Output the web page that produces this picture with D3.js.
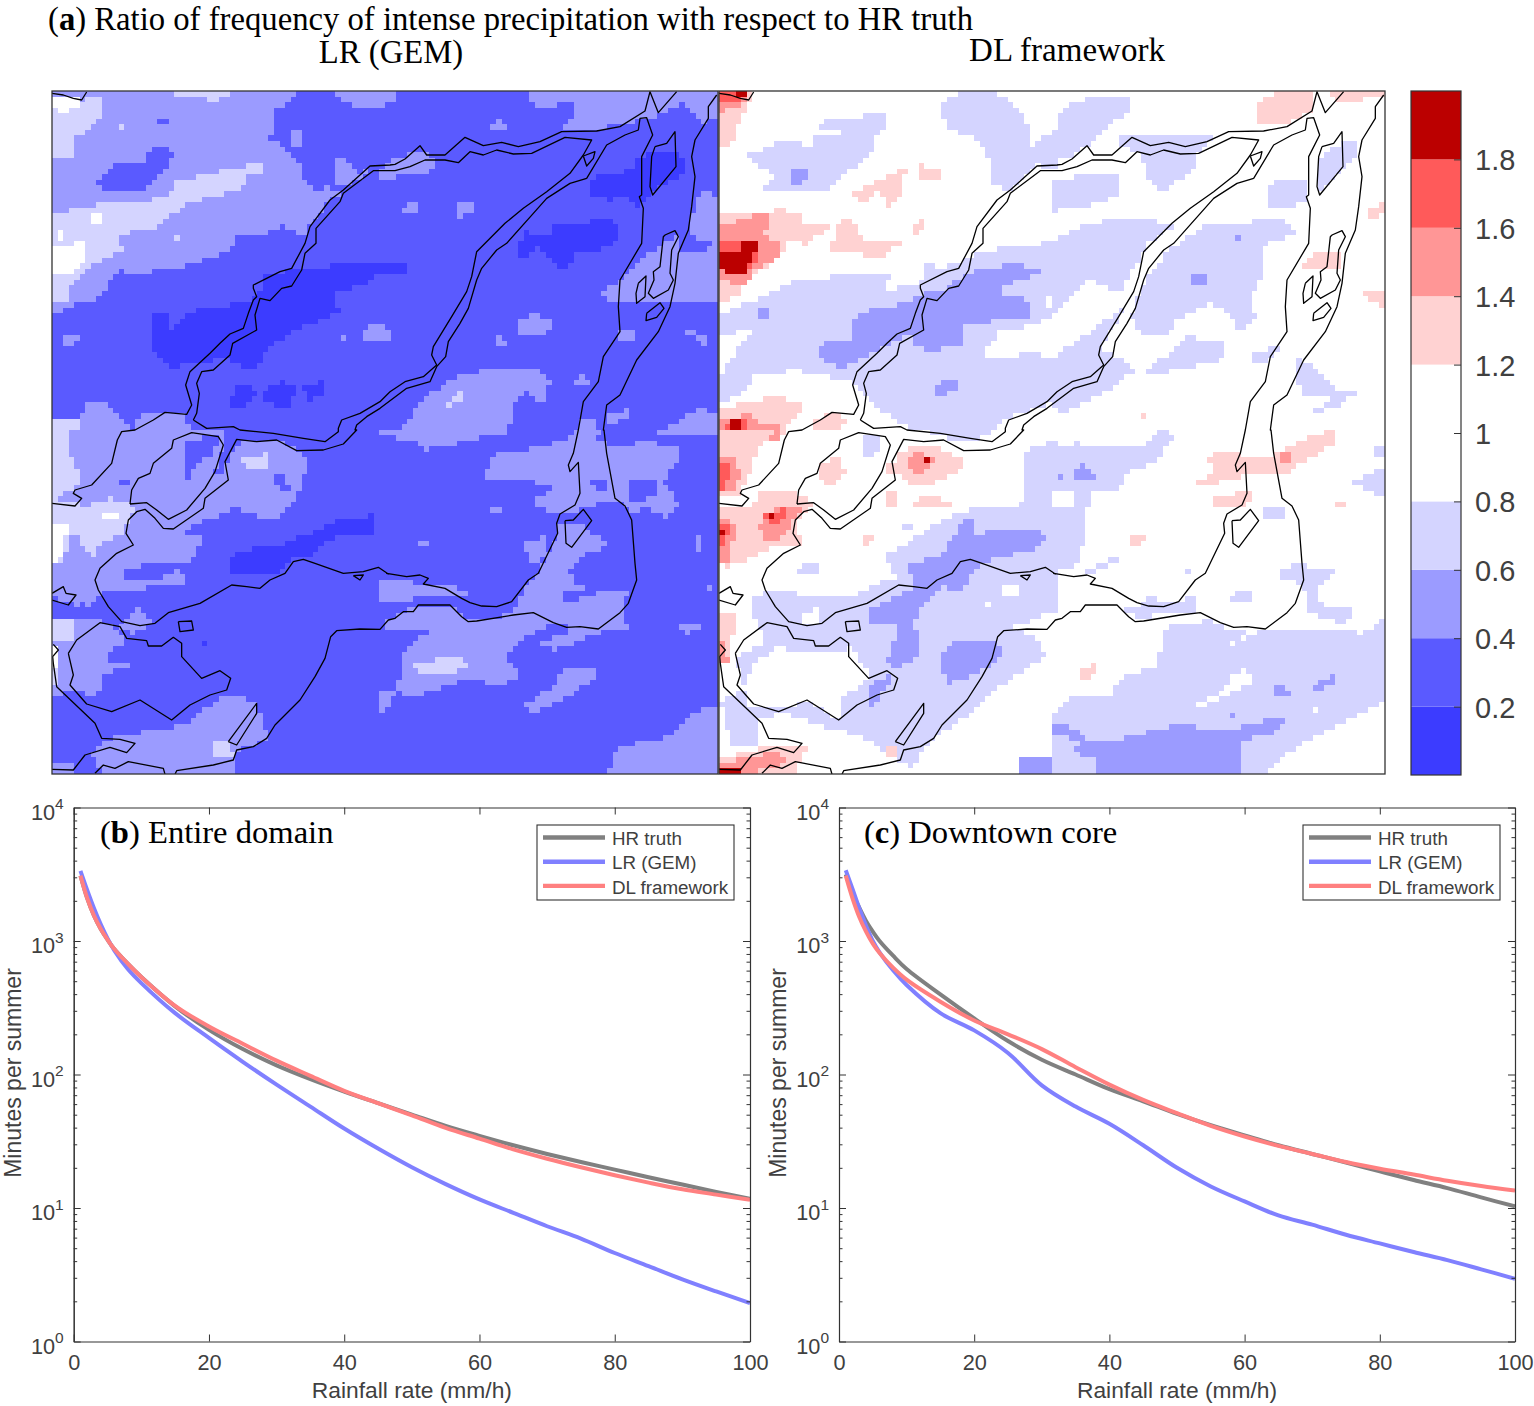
<!DOCTYPE html>
<html><head><meta charset="utf-8">
<script src="https://cdn.jsdelivr.net/npm/d3@7"></script>
<style>html,body{margin:0;background:#fff}svg{display:block}</style></head>
<body><svg id="fig" width="1534" height="1406"></svg>
<script>
// ---------- colour classes of the ratio map ----------
const levelBreaks=[0,0.2,0.4,0.6,0.8,1.2,1.4,1.6,1.8,2];
const levelColors=["#3c3cff","#5a5aff","#9b9bff","#d4d4ff","#ffffff","#ffd2d2","#ff9696","#ff5a5a","#bb0000"];
const colorbarTicks=[0.2,0.4,0.6,0.8,1,1.2,1.4,1.6,1.8];
// ---------- traced sheets (map units, origin of each tracing sheet, 1/3 unit per sheet step) ----------
const sheets={A:[-12,-11],B:[328,-11],C:[-12,339],D:[328,339],E:[-4,-6],F:[331,-6],G:[-4,339],H:[331,339]};
// ---------- regions of the LR (GEM) map: class index (1-9), sheet, outline; later entries lie above earlier ones ----------
const regionsLR=[
[3,'A',[36,30,780,30,705,95,710,150,690,175,740,210,790,260,785,295,830,330,860,320,890,335,910,335,870,360,810,440,795,465,725,440,650,470,580,460,585,490,550,520,450,550,400,570,320,575,290,590,235,570,210,600,190,650,100,675,30,715]],
[3,'A',[885,30,1060,30,1060,70,1000,85,930,75,900,70]],
[3,'B',[0,30,50,30,20,60,0,85]],
[3,'A',[745,145,785,145,785,205,745,200]],
[3,'A',[880,240,910,240,950,280,990,270,960,300,910,320,880,300]],
[2,'A',[170,315,230,255,320,240,335,200,370,195,405,225,350,300,320,325,225,340]],
[2,'A',[345,115,385,115,385,140,365,135]],
[3,'A',[50,780,120,760,120,780,85,810]],
[3,'A',[960,745,1040,735,1050,775,970,775]],
[3,'A',[900,770,915,770,900,785]],
[3,'A',[30,1010,120,1010,145,965,190,960,240,1020,290,1060,30,1060]],
[3,'A',[290,1060,290,1010,375,995,440,1003,450,1060]],
[4,'A',[30,1020,110,1005,120,1040,30,1060]],
[4,'A',[30,400,120,385,200,365,290,375,390,340,400,310,480,290,570,265,660,250,670,290,620,275,610,325,500,355,440,370,400,400,340,445,240,465,245,510,150,560,100,600,80,660,30,665]],
[4,'A',[30,230,95,230,100,180,180,120,190,50,130,60,30,50]],
[4,'A',[230,130,280,150,232,155]],
[4,'A',[395,470,420,470,420,488,395,488]],
[4,'A',[400,30,580,30,530,60,400,50]],
[5,'A',[30,50,100,55,130,60,125,85,50,95]],
[5,'A',[155,400,190,400,190,445,155,425]],
[5,'A',[30,510,105,490,135,480,145,520,120,560,90,595,30,575]],
[5,'A',[50,455,62,455,62,478,50,478]],
[1,'A',[340,700,370,690,395,745,480,680,630,670,665,620,670,580,800,570,930,545,1060,555,1060,580,1010,580,1000,605,890,640,895,690,860,720,790,735,680,810,650,865,580,855,550,830,490,850,390,860,335,810]],
[1,'A',[570,975,600,900,650,940,610,985]],
[1,'A',[670,930,730,900,775,930,740,985,670,960]],
[1,'A',[790,920,860,900,860,950,800,960]],
// upper right
[3,'B',[450,30,1020,30,1010,110,960,130,910,65,830,110,700,140,550,150,585,95,585,55,460,95]],
[3,'B',[25,240,80,225,140,210,165,245,150,290,60,290,0,300,0,270]],
[3,'B',[330,150,365,100,375,150]],
[3,'B',[60,385,95,365,125,385,75,410]],
[3,'B',[232,375,270,365,290,395,240,410]],
[3,'B',[635,655,720,600,820,510,895,470,900,520,1020,500,1020,660,860,665,730,660]],
[3,'B',[960,330,1020,350,1020,500,940,470,930,420]],
[3,'B',[405,755,420,715,480,700,515,730,490,765,410,760]],
[3,'B',[335,780,370,770,380,800,350,800]],
[3,'B',[720,755,765,755,755,780,720,780]],
[3,'B',[915,745,940,745,940,770,915,770]],
[3,'B',[950,770,990,770,975,800]],
[3,'B',[0,740,25,760,0,775]],
[3,'B',[60,1060,120,960,240,880,340,870,500,875,510,910,490,970,440,935,400,965,385,1060]],
[3,'B',[580,905,600,880,630,905,590,925]],
[3,'B',[670,1030,690,1000,740,990,740,1020]],
[3,'B',[600,1020,640,1015,660,1060,600,1060]],
[3,'B',[830,1060,960,985,1020,1000,1020,1060]],
[4,'B',[200,975,240,935,240,965,205,980]],
[4,'B',[235,1020,305,1005,300,1020]],
[1,'B',[625,320,660,285,760,270,760,225,800,225,890,210,915,250,915,285,880,300,810,340,780,385,740,350,680,360,640,345]],
[1,'B',[410,505,440,455,500,470,530,430,610,430,680,410,720,440,720,480,640,520,590,510,580,550,550,575,515,545,480,500,430,540]],
[1,'B',[0,555,80,545,80,575,30,590,0,575]],
// lower left
[3,'C',[30,-5,550,-5,550,40,520,130,540,150,560,100,600,30,700,25,790,70,810,100,775,180,775,210,710,260,660,260,580,235,510,265,420,300,480,320,480,350,440,400,400,390,330,400,250,420,260,445,380,440,400,420,440,430,440,465,300,475,190,490,140,540,110,525,30,500]],
[3,'C',[30,560,180,560,190,640,120,700,100,780,30,800]],
[3,'C',[260,560,300,535,340,580,280,610,230,590]],
[3,'C',[85,660,180,580,240,600,260,635,205,670,205,700,280,700,180,740,180,790,140,795,90,770]],
[3,'C',[280,910,430,885,550,800,640,810,690,920,640,950,590,960,590,1040,200,1040,150,970,200,930]],
[3,'C',[30,990,100,1000,110,1040,30,1040]],
[2,'C',[440,30,525,20,540,40,510,80,470,95,430,170,440,100]],
[2,'C',[690,150,740,125,745,185,720,185]],
[2,'C',[225,155,250,145,280,145,255,165]],
[2,'C',[115,510,140,510,140,525,115,525]],
[4,'C',[30,-5,80,-5,85,70,120,130,110,170,60,200,30,220]],
[4,'C',[30,220,150,225,210,205,265,215,290,240,260,280,255,310,190,340,160,380,110,320,100,290,65,400,30,400]],
[3,'C',[290,240,330,260,310,285,290,285,285,260]],
[4,'C',[30,570,95,570,95,630,30,640]],
[4,'C',[30,640,60,660,45,770,30,730]],
[4,'C',[515,925,570,925,580,985,530,990]],
[4,'C',[605,90,650,80,690,70,690,115,640,120]],
[5,'C',[30,270,80,285,70,380,30,400]],
[5,'C',[30,640,55,660,45,720,30,700]],
[5,'C',[180,258,230,240,230,265]],
[1,'C',[560,385,620,360,720,345,840,300,910,265,1010,255,1000,320,850,325,850,350,810,385,760,390,720,430,640,440,570,430]],
[1,'C',[480,632,505,632,505,645,480,645]],
// lower right
[3,'D',[0,-5,380,-5,360,10,200,50,130,60,100,30,0,20]],
[3,'D',[345,65,440,60,550,30,590,-5,650,-5,650,30,680,40,700,50,800,35,905,60,880,110,850,150,900,225,860,265,800,230,760,250,700,205,660,220,600,240,530,260,450,215,520,180,510,170,420,140,310,150]],
[2,'D',[625,150,680,145,690,190,640,170]],
[2,'D',[740,145,830,155,830,190,760,230,740,190]],
[3,'D',[0,445,130,460,200,470,265,480,250,505,100,505,40,520,0,510]],
[3,'D',[0,600,20,575,75,545,110,525,215,525,260,575,400,550,445,460,475,430,530,310,530,290,610,290,680,335,680,350,620,375,570,420,580,470,620,470,620,475,555,480,540,510,590,510,680,475,740,490,730,545,740,580,770,585,660,610,600,630,530,660,480,645,520,620,590,600,520,580,430,620,390,660,380,690,430,730,350,770,280,740,190,770,100,800,50,785,70,660,150,600]],
[3,'D',[410,350,490,320,500,380,470,410,430,355]],
[3,'D',[115,335,155,335,125,355]],
[3,'D',[330,235,370,235,345,262]],
[3,'D',[905,590,970,580,920,620]],
[3,'D',[945,320,970,315,970,375,945,365]],
[3,'D',[0,785,50,785,20,840,0,850]],
[3,'D',[435,820,520,770,550,710,655,715,640,750,520,825,460,855]],
[3,'D',[975,455,990,475,975,475]],
[3,'D',[710,950,850,925,960,840,1020,835,1020,1040,680,1040]],
[4,'D',[100,705,160,690,240,690,265,705,230,730,140,730,100,720]]
];
// ---------- regions of the DL framework map ----------
const regionsDL=[
[4,'E',[100,210,200,170,290,180,300,145,490,140,460,220,370,280,330,320,130,325,180,270,120,240]],
[4,'E',[670,70,730,20,830,20,900,60,940,120,940,190,1030,130,1030,250,960,240,880,320,830,300,820,220,800,170,700,130]],
[4,'E',[320,110,510,85,510,130,320,130]],
[4,'E',[15,690,130,640,230,590,400,570,550,560,490,625,620,590,625,520,680,550,730,530,780,510,860,490,1030,470,1030,600,990,660,1030,680,950,720,850,740,810,800,830,825,960,800,1030,830,1030,950,870,1000,800,1060,700,1060,560,1020,490,970,455,940,410,890,240,855,120,870,70,940,15,945,15,880,60,800,120,740,15,745]],
[3,'E',[300,800,340,770,405,760,405,700,460,675,590,650,610,630,690,610,770,560,870,540,970,545,970,570,880,600,830,620,945,645,945,695,740,720,755,775,660,795,600,790,590,745,500,790,380,850,340,830]],
[3,'E',[655,905,695,880,720,880,720,915,665,940]],
[3,'E',[232,250,285,260,255,305,232,305]],
[3,'E',[130,680,150,665,165,690,140,705]],
[6,'E',[0,15,110,15,100,60,75,110,45,185,0,180]],
[6,'E',[415,320,470,300,520,265,575,255,550,355,520,360,490,320,440,355]],
[6,'E',[615,240,695,265,670,290,620,280]],
[6,'E',[0,390,200,375,270,385,270,420,340,425,280,480,220,470,170,540,100,580,70,640,0,650]],
[6,'E',[340,520,370,410,410,405,450,470,570,465,500,515,340,500]],
[6,'E',[590,440,620,400,630,430,600,455]],
[6,'E',[0,975,170,935,270,955,195,1060,0,1060]],
[6,'E',[290,1010,350,980,400,1010,350,1040,300,1040]],
[7,'E',[0,15,100,15,80,60,0,85]],
[7,'E',[0,420,100,405,130,385,165,390,150,450,205,480,200,510,120,555,80,610,0,570]],
[7,'E',[10,1010,100,985,130,1020,190,1020,195,1060,10,1060]],
[8,'E',[0,470,50,460,125,470,130,520,90,560,40,570,0,540]],
[8,'E',[25,1020,60,990,100,1010,90,1060,30,1060]],
[8,'E',[0,15,60,15,75,45,20,55]],
[9,'E',[0,510,70,500,90,470,125,470,115,520,80,575,50,575,0,540]],
[9,'E',[60,25,100,25,75,48]],
[9,'E',[45,1000,75,1000,70,1030,50,1035]],
// upper right
[4,'F',[0,170,40,70,110,40,240,40,240,70,140,160,60,220,0,230]],
[4,'F',[200,150,500,150,440,215,450,240,340,320,290,270,270,210,280,195,200,190]],
[4,'F',[0,290,100,270,210,265,210,320,170,350,30,375,0,400]],
[4,'F',[0,470,100,425,200,395,300,400,370,425,300,470,250,550,210,630,120,580,70,620,0,710]],
[4,'F',[240,700,290,580,360,490,470,420,600,410,700,405,740,445,640,480,640,560,600,640,620,700,570,750,540,690,480,655,370,710,360,750,280,750]],
[4,'F',[0,820,120,740,230,660,150,790,260,850,170,920,30,985,0,960]],
[4,'F',[360,800,410,755,530,770,530,820,400,850,320,870,280,860]],
[4,'F',[650,320,680,280,770,280,770,340,720,370,650,370]],
[4,'F',[800,230,880,165,930,165,930,200,880,250,810,330]],
[4,'F',[610,810,690,775,660,830,610,830]],
[4,'F',[735,820,780,830,850,910,940,910,850,970,780,985,860,930,760,935,735,880]],
[3,'F',[430,575,470,575,470,595,430,595]],
[3,'F',[550,450,570,450,570,465,550,465]],
[3,'F',[50,815,70,815,60,830]],
[6,'F',[615,60,680,25,790,25,780,80,710,120,620,125]],
[6,'F',[830,15,1010,15,1010,35,860,50]],
[6,'F',[755,550,780,510,880,500,880,540,860,560,760,550]],
[6,'F',[940,620,1010,610,1010,680,970,650]],
[6,'F',[950,380,1010,350,1010,385,950,405]],
[6,'F',[235,1000,295,990,285,1005,235,1010]],
// lower left
[4,'G',[440,25,500,20,500,60,460,85,440,60]],
[4,'G',[115,510,170,475,290,500,420,495,540,440,510,370,560,350,700,260,780,235,900,240,930,210,930,60,1030,30,1030,580,900,590,960,620,990,680,900,740,830,790,750,860,660,920,620,960,590,1020,450,925,300,880,200,850,130,870,130,940,50,945,15,820,30,800,80,780,110,710,190,650,230,665,300,660,405,660,440,700,450,760,375,800,370,870,270,810,200,840,100,830,60,680,150,640,120,560]],
[4,'G',[555,290,590,275,590,300,560,300]],
[4,'G',[240,420,290,390,320,410,290,440,240,430]],
[5,'G',[290,800,290,720,370,680,400,650,470,730,430,770,360,800]],
[5,'G',[790,510,830,525,810,530]],
[5,'G',[860,470,910,470,910,500,870,495]],
[5,'G',[900,590,1030,540,1030,590,990,600,910,590]],
[5,'G',[730,920,820,830,880,770,990,700,1030,680,1030,860,900,900,800,960,760,990,730,960]],
[5,'G',[260,560,300,535,330,570,270,590]],
[3,'G',[575,400,680,380,720,310,745,265,775,270,790,340,810,300,870,295,950,290,990,320,960,360,890,375,800,400,770,440,730,495,680,470,630,520,600,570,610,680,530,720,515,690,540,620,540,590,470,580,460,540,530,510,600,470,590,440]],
[3,'G',[680,680,710,635,830,625,870,665,820,710,760,740,700,760,670,710]],
[3,'G',[450,800,480,760,520,730,520,770,470,830]],
[3,'G',[900,1040,920,985,1000,980,1030,1000,1030,1040]],
[3,'G',[1000,880,1030,880,1030,900]],
[6,'G',[0,-5,200,-5,130,60,80,190,30,210,0,200]],
[6,'G',[0,230,110,235,130,190,250,190,300,220,240,280,260,340,150,360,100,390,40,410,0,400]],
[6,'G',[0,550,70,550,50,640,40,700,0,710]],
[6,'G',[310,110,380,70,390,130,350,165,310,150]],
[6,'G',[510,100,540,100,540,130,510,135]],
[6,'G',[540,70,610,50,680,55,750,90,750,110,660,160,590,165,540,130]],
[6,'G',[505,190,550,190,550,230,505,230]],
[6,'G',[560,220,640,200,720,215,690,235,600,225]],
[6,'G',[440,325,490,315,460,350,440,345]],
[6,'G',[0,990,100,965,180,940,290,950,260,980,240,1040,0,1040]],
[6,'G',[515,950,560,945,540,980,515,975]],
[7,'G',[0,90,50,85,80,130,60,180,0,195]],
[7,'G',[130,290,180,230,260,230,240,270,200,320,150,340]],
[7,'G',[0,260,60,280,50,350,40,400,0,390]],
[7,'G',[575,100,610,65,670,90,620,135,580,120]],
[7,'G',[10,1000,90,985,180,965,220,1000,150,1020,10,1040]],
[7,'G',[0,620,30,640,40,690,0,700]],
[8,'G',[0,100,50,100,30,180,0,180]],
[8,'G',[145,260,220,235,215,265,180,290]],
[8,'G',[0,290,40,290,30,350,0,345]],
[8,'G',[0,1020,80,1010,85,1040,0,1040]],
[9,'G',[170,245,185,245,185,262,170,262]],
[9,'G',[0,295,35,295,30,320,0,320]],
[9,'G',[630,88,645,88,640,95]],
[9,'G',[0,1020,80,1020,80,1040,0,1040]],
// lower right
[4,'H',[0,60,80,40,180,50,280,50,340,-5,370,15,320,100,240,120,200,180,130,190,115,220,110,320,70,420,0,420]],
[5,'H',[0,190,60,180,80,230,50,240,0,230]],
[3,'H',[70,150,90,100,130,125,155,150]],
[3,'H',[15,135,40,135,40,150,15,150]],
[4,'H',[0,440,15,440,15,500,0,500]],
[4,'H',[100,420,210,380,190,400,130,430]],
[4,'H',[400,410,430,430,420,445]],
[4,'H',[530,510,560,480,615,480,600,510,535,520]],
[4,'H',[640,230,700,225,700,265,640,260]],
[4,'H',[690,410,750,405,855,420,800,470,820,530,930,545,870,580,780,550,760,470,695,440]],
[4,'H',[900,155,1010,110,1010,200,940,180]],
[4,'H',[970,50,1010,40,1010,75,980,75]],
[4,'H',[230,535,280,520,370,520,440,495,440,545,270,560,230,555]],
[4,'H',[290,500,320,490,320,520,290,520]],
[4,'H',[0,860,60,800,130,795,190,790,200,750,320,710,340,620,350,590,480,570,520,590,640,600,860,600,940,610,1010,565,1010,810,860,890,740,950,630,1040,0,1040]],
[5,'H',[440,820,520,780,550,730,590,715,610,750,570,780,500,810,450,840]],
[5,'H',[770,850,810,820,800,850]],
[5,'H',[530,650,600,600,620,610,560,640]],
[3,'H',[0,885,90,895,100,930,220,925,380,885,500,895,540,900,650,870,700,870,670,910,580,930,580,1040,140,1040,130,985,70,970,90,930,0,910]],
[3,'H',[780,770,855,735,855,760,790,790]],
[3,'H',[660,780,680,760,730,785,680,805]],
[3,'H',[520,860,560,850,560,860]],
[6,'H',[475,75,560,65,580,90,670,80,740,35,860,-5,860,40,760,95,700,140,600,130,450,175,440,155,490,130]],
[6,'H',[465,215,530,195,610,180,590,230,520,240]],
[6,'H',[235,320,290,315,285,340,235,345]],
[6,'H',[855,215,885,210,885,240,860,240]],
[6,'H',[95,715,130,705,145,735,95,745]],
[7,'H',[680,75,710,65,725,85,690,110]]
];
// ---------- shorelines (same on both maps): list of traced pieces ----------
const shorelines=[
[['A',[36,40,70,45,100,55,125,60,140,36]]],
[['C',[36,220,105,228,125,205,100,190,105,180,155,165,215,100,232,30,245,5,285,0]],['A',[340,1020,375,997,440,1003,455,975,437,915,450,875,510,820,540,790,570,762,610,745,625,700,640,660,650,650,640,625,640,615,720,575,755,565,795,490,810,440,870,360,910,330,990,258,1050,255]],['B',[45,253,75,237,120,197,140,225,195,225,255,172,310,197,365,187,415,200,480,185,545,155,650,153,720,140,795,93,810,35,835,98,890,35]]],
[['A',[460,1020,470,1000,478,940,470,910,485,875,520,870,570,825,578,790,650,750,645,705,660,655,690,662,725,625,755,618,785,570,795,520,828,490,828,445,900,365,910,340,1000,272,1050,272]],['B',[45,272,90,260,135,240,195,240,235,248,270,215,310,225,350,210,400,222,455,220,555,172,635,180,610,225,570,280,500,335,430,385,375,430,290,515,275,590,260,635,215,710,160,800,155,825,170,855,130,890,75,905,30,935,0,965]],['A',[960,1000,905,1020,895,1045]],['C',[895,5,855,35,790,25,700,10,600,0]],['A',[580,1040,500,1045,460,1020]]],
[['B',[620,295,570,310,500,355,460,400,380,490,350,510,305,565,290,600,265,685,240,730,205,785,197,830,170,860,150,905,80,925,0,985]],['A',[980,1010,950,1035,945,1050]],['C',[950,0,910,42,850,60,770,62,710,30,650,35,590,28,555,95,565,150,495,205,490,235,400,297,370,295,345,265,315,238,290,245,265,270,258,310,280,345,230,370,180,415,165,450,175,480,205,530,245,575,300,587,345,580,385,548,480,520,575,465,620,470,660,475,690,450,735,430,760,395,790,388,825,400,910,430,970,425,1015,412,1045,432]],['D',[20,430,80,440,120,435,145,445,130,462,195,475,245,505,270,518,305,528,350,530,395,515,445,450,475,430,533,310,530,280,540,252,585,225,600,190,595,97,570,125,565,105,580,70,595,0]],['B',[595,1050,610,965,655,905,670,830,720,755,715,680,720,600,785,490,790,385,778,350,785,345,785,230,818,165,800,113,780,115,775,150,735,165,680,195,620,295]]],
[['B',[1010,45,985,80,985,115,945,180,935,230,945,290,935,380,925,450,895,520,885,610,870,680,835,755,770,840,720,945,680,975,670,1050]],['D',[672,0,680,70,705,205,735,228,755,270,765,400,770,450,745,520,720,548,655,597,600,590,560,592,520,578,460,548,400,555,290,573,265,575,245,560,210,525,115,525,100,545,70,545,45,565,25,570,0,598]],['C',[960,597,890,602,872,620,855,685,825,740,780,810,705,885,680,925,640,950,590,960,580,990,520,1005,410,1022,405,1033]]],
[['C',[375,1033,370,1015,265,995,225,1015,190,1005,165,1030]]],
[['C',[36,1018,100,1020,135,975,210,952,260,968,285,940,240,928,185,925,165,880,50,770,40,700,38,680,55,660,40,643]]],
[['C',[85,670,110,630,180,578,240,590,260,625,320,632,325,648,365,648,400,622,425,640,425,680,485,745,540,722,572,745,560,780,510,795,450,825,395,870,300,810,215,845,140,822,90,765,100,735,85,670]]],
[['C',[270,222,275,180,295,145,330,130,340,100,395,55,400,30,455,8,535,20,550,45,525,125,495,175,440,240,385,268,350,240,320,218,270,222]]],
[['C',[415,575,455,573,460,600,420,605,415,575]]],
[['C',[940,437,970,435,960,450,940,437]]],
[['C',[36,490,70,470,78,490,108,495,85,525,36,510]]],
[['C',[565,935,650,820,650,850,590,945,565,935]]],
[['D',[555,272,580,270,610,238,635,272,575,352,558,340,555,272]]],
[['B',[610,228,645,215,640,235,620,258,610,228]]],
[['B',[825,200,860,190,885,155,888,260,818,345,810,320,815,230,825,200]]],
[['B',[855,465,885,452,895,470,875,510,870,580,880,600,865,630,820,655,805,640,822,600,820,575,840,560,850,470,855,465]]],
[['B',[775,610,798,588,795,650,770,670,768,640,775,610]]],
[['B',[800,700,840,668,852,685,830,712,798,722,800,700]]]
];
// ---------- exceedance curves ----------
const rates=[1,2,3,4,5,6,8,10,15,20,25,30,35,40,45,50,55,60,65,70,75,80,85,90,95,100];
const hrEntire=[3090,2090,1549,1230,1023,871,676,537,324,216,155,117,92.3,74.5,61,50.1,41.2,34.7,29.5,25.4,22.1,19.4,17,15,13.2,11.7];
const lrEntire=[3350,2400,1758,1334,1047,851,617,484,288,188,124.5,84,57.5,39.4,27.9,20.2,15.1,11.6,9.2,7.3,5.9,4.6,3.67,2.92,2.37,1.94];
const dlEntire=[3090,2090,1549,1230,1023,871,676,537,327,229,170,127,97.7,75.5,61,49.5,39.8,33.1,27.5,23.4,20.2,17.6,15.5,13.8,12.6,11.5];
const hrDowntown=[3162,2291,1778,1413,1175,1000,776,617,398,263,178,129,100,77.6,63,50.7,41.7,35,29.5,25.4,21.9,18.8,16.2,14.1,12,10.3];
const lrDowntown=[3390,2455,1758,1303,1000,822,603,468,288,214,145,83,57.5,42.7,29.5,20,14.5,11.2,8.8,7.5,6.3,5.43,4.68,4.07,3.47,2.95];
const dlDowntown=[3090,2090,1514,1175,955,813,631,513,351,254,200,155,113.5,84,64.5,51.3,41.2,34.3,29.2,25.4,22.1,19.7,17.8,16,14.6,13.5];
const seriesNames=["HR truth","LR (GEM)","DL framework"];
const seriesColors=["#808080","#8080ff","#ff8080"];
const xTicks=[0,20,40,60,80,100];
const yDecades=[0,1,2,3,4];

// ---------- drawing ----------
const svg=d3.select("#fig");
const INK="#404040",SERIF="'Liberation Serif',serif",SANS="'Liberation Sans',sans-serif";
const toMap=(k,flat)=>d3.range(0,flat.length,2).map(i=>[sheets[k][0]+flat[i]/3,sheets[k][1]+flat[i+1]/3]);
const CW=666,CH=683,NX=120,NY=123;
const shoreLines=shorelines.map(pieces=>pieces.flatMap(([k,f])=>toMap(k,f)));

function mapPanel(left,regions,base){
  const x=d3.scaleLinear().domain([0,CW]).range([left,left+CW]);
  const y=d3.scaleLinear().domain([0,CH]).range([91,91+CH]);
  const polys=regions.map(([lv,k,f])=>({lv,pts:toMap(k,f)}));
  const grid=d3.range(NY).map(()=>new Array(NX).fill(base));
  polys.forEach(p=>{
    const [x0,x1]=d3.extent(p.pts,d=>d[0]),[y0,y1]=d3.extent(p.pts,d=>d[1]);
    for(let r=Math.max(0,Math.floor(y0/(CH/NY)));r<NY&&(r*CH/NY)<=y1;r++)
      for(let c=Math.max(0,Math.floor(x0/(CW/NX)));c<NX&&(c*CW/NX)<=x1;c++)
        if(d3.polygonContains(p.pts,[(c+.5)*CW/NX,(r+.5)*CH/NY]))grid[r][c]=p.lv;
  });
  const runs=[];
  grid.forEach((row,r)=>{let s=0;for(let c=1;c<=NX;c++)if(c===NX||row[c]!==row[s]){runs.push({r,s,e:c,lv:row[s]});s=c;}});
  const g=svg.append("g");
  g.selectAll("rect").data(runs).join("rect")
    .attr("x",d=>Math.round(x(d.s*CW/NX))).attr("y",d=>Math.round(y(d.r*CH/NY)))
    .attr("width",d=>Math.round(x(d.e*CW/NX))-Math.round(x(d.s*CW/NX)))
    .attr("height",d=>Math.round(y((d.r+1)*CH/NY))-Math.round(y(d.r*CH/NY)))
    .attr("fill",d=>levelColors[d.lv-1]).attr("shape-rendering","crispEdges");
  const clip="c"+left;
  svg.append("clipPath").attr("id",clip).append("rect").attr("x",left).attr("y",91).attr("width",CW).attr("height",CH);
  const line=d3.line().x(d=>x(d[0])).y(d=>y(d[1]));
  svg.append("g").attr("clip-path",`url(#${clip})`).selectAll("path").data(shoreLines).join("path")
    .attr("d",line).attr("fill","none").attr("stroke","#000").attr("stroke-width",1.3).attr("stroke-linejoin","round");
  svg.append("rect").attr("x",left).attr("y",91).attr("width",CW).attr("height",CH).attr("fill","none").attr("stroke","#333").attr("stroke-width",1.3);
}
mapPanel(52,regionsLR,2);
mapPanel(719,regionsDL,5);

// colour bar
(function(){
  const y=d3.scaleLinear().domain([0,2]).range([775,91]);
  const L=1411,W=50;
  svg.append("g").selectAll("rect").data(levelColors).join("rect")
    .attr("x",L).attr("width",W).attr("y",(d,i)=>y(levelBreaks[i+1])).attr("height",(d,i)=>y(levelBreaks[i])-y(levelBreaks[i+1])).attr("fill",d=>d);
  svg.append("rect").attr("x",L).attr("y",91).attr("width",W).attr("height",684).attr("fill","none").attr("stroke","#333").attr("stroke-width",1.2);
  const g=svg.append("g").attr("transform",`translate(${L+W},0)`)
    .call(d3.axisRight(y).tickValues(colorbarTicks).tickSize(-7).tickPadding(14).tickFormat(d3.format("~g")));
  g.select(".domain").remove();
  g.selectAll("line").attr("stroke","#333");
  g.selectAll("text").attr("font-family","'Liberation Sans',sans-serif").attr("font-size",29).attr("fill",INK).attr("dy","0.36em");
})();

// line panels
function linePanel(L,R,letter,title,hr,lr,dl,titleX,legX){
  const T=807.5,B=1341.5;
  const x=d3.scaleLinear().domain([0,100]).range([L,R]);
  const y=d3.scaleLog().domain([1,1e4]).range([B,T]);
  const minor=yDecades.slice(0,-1).flatMap(k=>d3.range(2,10).map(m=>m*Math.pow(10,k)));
  const majors=yDecades.map(k=>Math.pow(10,k));
  const clip="lp"+L;
  svg.append("clipPath").attr("id",clip).append("rect").attr("x",L).attr("y",T).attr("width",R-L).attr("height",B-T);
  const line=d3.line().x((d,i)=>x(rates[i])).y(d=>y(d)).curve(d3.curveCatmullRom.alpha(0.5));
  svg.append("g").attr("clip-path",`url(#${clip})`).selectAll("path").data([hr,lr,dl]).join("path")
    .attr("d",line).attr("fill","none").attr("stroke",(d,i)=>seriesColors[i]).attr("stroke-width",4);
  const style=g=>{g.selectAll("line").attr("stroke","#333");g.select(".domain").attr("stroke","#333").attr("stroke-width",1.1);};
  const gx=svg.append("g").attr("transform",`translate(0,${B})`)
    .call(d3.axisBottom(x).tickValues(xTicks).tickSize(-7).tickPadding(13).tickSizeOuter(0)).call(style);
  gx.selectAll("text").attr("font-family",SANS).attr("font-size",21.7).attr("fill",INK);
  svg.append("g").attr("transform",`translate(0,${T})`)
    .call(d3.axisTop(x).tickValues(xTicks).tickSize(-7).tickSizeOuter(0).tickFormat("")).call(style);
  svg.append("g").attr("transform",`translate(${L},0)`)
    .call(d3.axisLeft(y).tickValues(minor).tickSize(-3.5).tickSizeOuter(0).tickFormat("")).call(style);
  svg.append("g").attr("transform",`translate(${R},0)`)
    .call(d3.axisRight(y).tickValues(minor).tickSize(-3.5).tickSizeOuter(0).tickFormat("")).call(style);
  svg.append("g").attr("transform",`translate(${R},0)`)
    .call(d3.axisRight(y).tickValues(majors).tickSize(-7).tickSizeOuter(0).tickFormat("")).call(style);
  const gy=svg.append("g").attr("transform",`translate(${L},0)`)
    .call(d3.axisLeft(y).tickValues(majors).tickSize(-7).tickSizeOuter(0).tickPadding(9).tickFormat(""));
  style(gy);
  gy.selectAll(".tick text").each(function(d){
    const t=d3.select(this).attr("font-family",SANS).attr("font-size",21.7).attr("fill",INK).attr("dy","0.55em").attr("x",-10);
    t.append("tspan").text("10");
    t.append("tspan").text(Math.round(Math.log10(d))).attr("font-size",15.5).attr("dy","-0.7em");
  });
  svg.append("text").attr("x",(L+R)/2).attr("y",1398).attr("text-anchor","middle").attr("font-family",SANS).attr("font-size",22.8).attr("fill",INK).text("Rainfall rate (mm/h)");
  svg.append("text").attr("transform",`translate(${L-53},1073) rotate(-90)`).attr("text-anchor","middle").attr("font-family",SANS).attr("font-size",23).attr("fill",INK).text("Minutes per summer");
  const tt=svg.append("text").attr("x",titleX).attr("y",843).attr("font-family",SERIF).attr("font-size",32.6).attr("fill","#000");
  tt.append("tspan").text("(");tt.append("tspan").attr("font-weight","bold").text(letter);tt.append("tspan").text(") "+title);
  // legend
  const lg=svg.append("g").attr("transform",`translate(${legX},825)`);
  lg.append("rect").attr("width",197).attr("height",75).attr("fill","#fff").attr("stroke","#333").attr("stroke-width",1.1);
  const rows=lg.selectAll("g").data(seriesNames).join("g").attr("transform",(d,i)=>`translate(0,${12.5+i*24.2})`);
  rows.append("line").attr("x1",6).attr("x2",68).attr("stroke",(d,i)=>seriesColors[i]).attr("stroke-width",4.4);
  rows.append("text").attr("x",75).attr("dy","0.36em").attr("y",1).attr("font-family",SANS).attr("font-size",18.8).attr("fill",INK).text(d=>d);
}
linePanel(73.7,750,"b","Entire domain",hrEntire,lrEntire,dlEntire,100,537);
linePanel(839,1515,"c","Downtown core",hrDowntown,lrDowntown,dlDowntown,864,1303);

// headline texts
const head=svg.append("text").attr("x",48).attr("y",29.5).attr("font-family",SERIF).attr("font-size",32.7).attr("fill","#000");
head.append("tspan").text("(");head.append("tspan").attr("font-weight","bold").text("a");
head.append("tspan").text(") Ratio of frequency of intense precipitation with respect to HR truth");
svg.append("text").attr("x",391).attr("y",63).attr("text-anchor","middle").attr("font-family",SERIF).attr("font-size",32.7).text("LR (GEM)");
svg.append("text").attr("x",1067).attr("y",61).attr("text-anchor","middle").attr("font-family",SERIF).attr("font-size",33).text("DL framework");
</script></body></html>
